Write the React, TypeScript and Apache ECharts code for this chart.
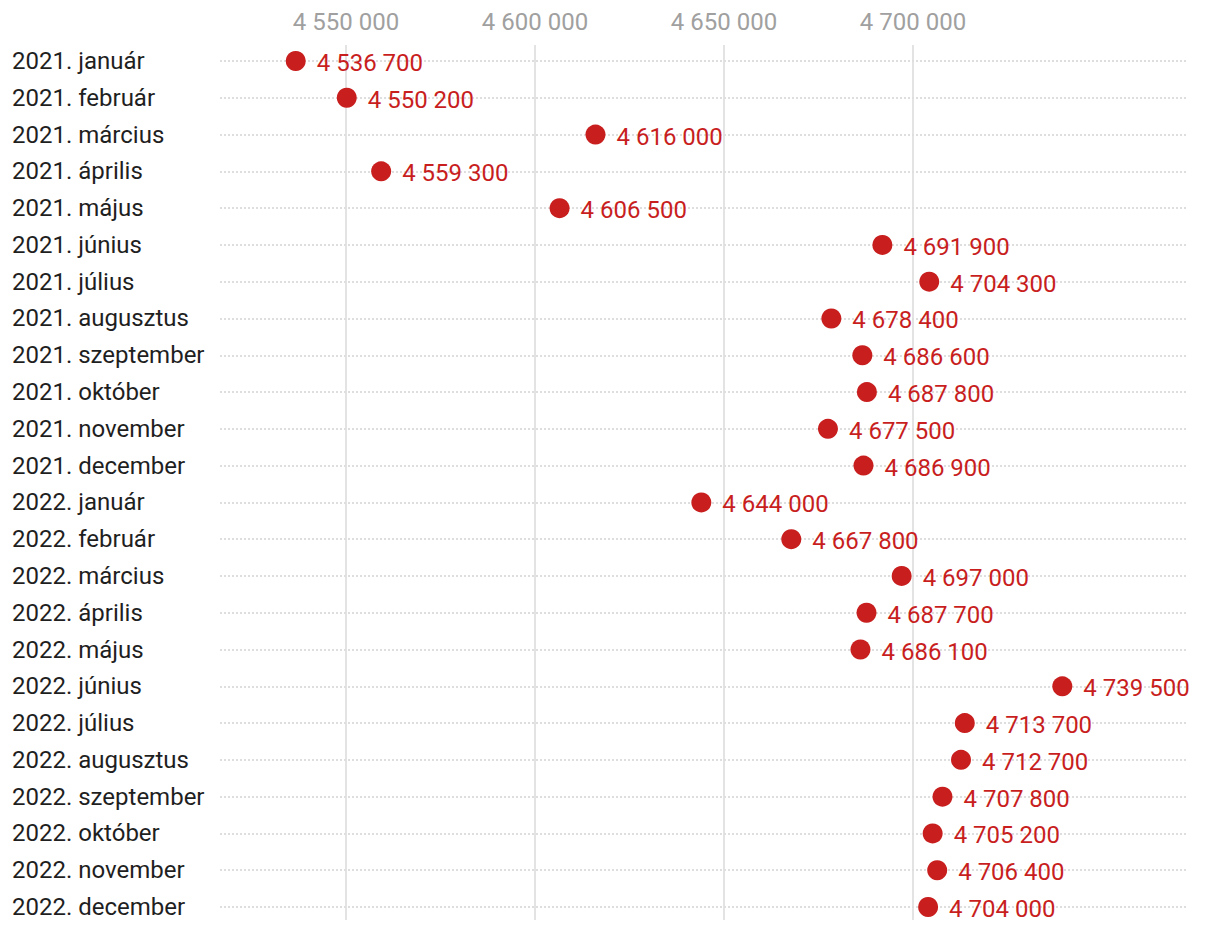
import React, { useEffect, useRef } from "react";
import * as echarts from "echarts";

const categories = [
  "2021. január", "2021. február", "2021. március", "2021. április", "2021. május", "2021. június",
  "2021. július", "2021. augusztus", "2021. szeptember", "2021. október", "2021. november", "2021. december",
  "2022. január", "2022. február", "2022. március", "2022. április", "2022. május", "2022. június",
  "2022. július", "2022. augusztus", "2022. szeptember", "2022. október", "2022. november", "2022. december",
];

const values = [
  4536700, 4550200, 4616000, 4559300, 4606500, 4691900,
  4704300, 4678400, 4686600, 4687800, 4677500, 4686900,
  4644000, 4667800, 4697000, 4687700, 4686100, 4739500,
  4713700, 4712700, 4707800, 4705200, 4706400, 4704000,
];

const tickMin = 4550000;
const tickMax = 4700000;
const tickStep = 50000;

const fmt = (v: number) => String(Math.round(v)).replace(/\B(?=(\d{3})+(?!\d))/g, " ");

export default function App() {
  const ref = useRef<HTMLDivElement>(null);
  useEffect(() => {
    document.body.style.margin = "0";
    if (!ref.current) return;
    const chart = echarts.init(ref.current, null, { renderer: "svg" });

    // pixel layout
    const W = 1220;
    const dataLeft = 220, dataRight = 1186;
    const tickLeftPx = 346, tickRightPx = 913;
    const pxPerUnit = (tickRightPx - tickLeftPx) / (tickMax - tickMin);
    const dataMin = tickMin - (tickLeftPx - dataLeft) / pxPerUnit;
    const dataMax = tickMax + (dataRight - tickRightPx) / pxPerUnit;

    const font = "Roboto";
    const red = "#c81e1e";

    chart.setOption({
      animation: false,
      grid: [
        { left: dataLeft, right: W - dataRight, top: 61, height: 846 },
        { left: tickLeftPx, right: W - tickRightPx, top: 45, bottom: 12 },
      ],
      xAxis: [
        {
          type: "value", gridIndex: 0, min: dataMin, max: dataMax, show: false,
          splitLine: { show: false },
        },
        {
          type: "value", gridIndex: 1, position: "top", min: tickMin, max: tickMax, interval: tickStep,
          axisLine: { show: false }, axisTick: { show: false },
          axisLabel: { color: "#a0a0a0", fontSize: 24, fontFamily: font, margin: 11, formatter: (v: number) => fmt(v) },
          splitLine: { show: true, lineStyle: { color: "#e3e3e3", width: 2 } },
        },
      ],
      yAxis: [
        {
          type: "category", gridIndex: 0, data: categories, inverse: true, boundaryGap: false,
          axisLine: { show: false }, axisTick: { show: false },
          axisLabel: { color: "#1f1f1f", fontSize: 24, fontFamily: font, align: "left", margin: 208, interval: 0 },
          splitLine: { show: true, interval: 0, lineStyle: { color: "#dedede", width: 2, type: [2, 2] } },
          z: 3,
        },
        { type: "value", gridIndex: 1, show: false, splitLine: { show: false } },
      ],
      series: [
        {
          type: "scatter", xAxisIndex: 0, yAxisIndex: 0,
          data: values, symbolSize: 20, itemStyle: { color: red, opacity: 1 },
          label: {
            show: true, position: "right", distance: 11, offset: [0, 2], color: red, fontSize: 24, fontFamily: font,
            formatter: (p: any) => fmt(p.value),
          },
          z: 5,
        },
      ],
    });
    return () => chart.dispose();
  }, []);
  return <div ref={ref} style={{ width: 1220, height: 932 }} />;
}
